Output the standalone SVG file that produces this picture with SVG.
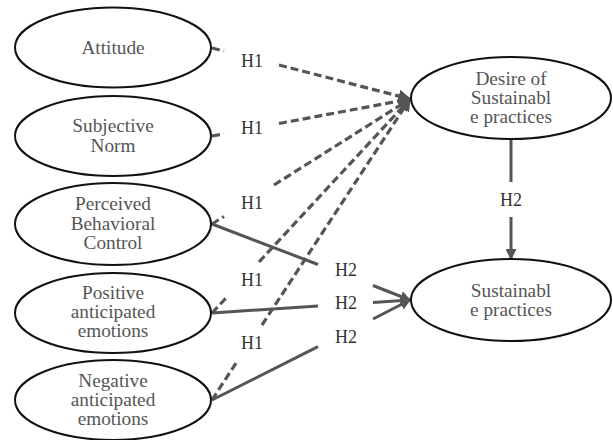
<svg xmlns="http://www.w3.org/2000/svg" width="613" height="440" viewBox="0 0 613 440">
<style>
.node ellipse{fill:#fff;stroke:#111;stroke-width:2}
.node text{font-size:19.3px;fill:#555;text-anchor:middle}
.lbl{font-size:18px;fill:#333;text-anchor:middle}
.dash{stroke:#555;stroke-width:3.2;stroke-dasharray:8 4;fill:none}
.solid{stroke:#555;stroke-width:3;fill:none}
</style>
<defs>
<marker id="ah" viewBox="0 0 10 10" refX="9" refY="5" markerWidth="11" markerHeight="11" markerUnits="userSpaceOnUse" orient="auto">
<path d="M0,0 L10,5 L0,10 z" fill="#555"/>
</marker>
<marker id="ahd" viewBox="0 0 10 10" refX="9" refY="5" markerWidth="13" markerHeight="13" markerUnits="userSpaceOnUse" orient="auto">
<path d="M0,0 L10,5 L0,10 z" fill="#555"/>
</marker>
</defs>
<rect width="613" height="440" fill="#fff"/>
<g id="connectors" font-family="'Liberation Serif', 'Times New Roman', serif">
<line class="dash" x1="212" y1="48" x2="224" y2="51"/>
<line class="dash" x1="279" y1="65" x2="410" y2="99" marker-end="url(#ahd)"/>
<line class="dash" x1="212" y1="136" x2="224" y2="134"/>
<line class="dash" x1="279" y1="123.5" x2="410" y2="99" marker-end="url(#ahd)"/>
<line class="dash" x1="212" y1="224" x2="224" y2="216.5"/>
<line class="dash" x1="274" y1="185" x2="410" y2="99" marker-end="url(#ahd)"/>
<line class="dash" x1="212" y1="313" x2="227" y2="297"/>
<line class="dash" x1="259" y1="262" x2="410" y2="99" marker-end="url(#ahd)"/>
<line class="dash" x1="212" y1="400" x2="238" y2="360"/>
<line class="dash" x1="262" y1="325" x2="410" y2="99" marker-end="url(#ahd)"/>
<line class="solid" x1="212" y1="224" x2="318" y2="264.5"/>
<line class="solid" x1="373" y1="285.5" x2="410" y2="300" marker-end="url(#ah)"/>
<line class="solid" x1="212" y1="313" x2="318" y2="306"/>
<line class="solid" x1="373" y1="302.5" x2="410" y2="300" marker-end="url(#ah)"/>
<line class="solid" x1="212" y1="400" x2="318" y2="346.7"/>
<line class="solid" x1="373" y1="319" x2="410" y2="300" marker-end="url(#ah)"/>
<line class="solid" x1="511" y1="139" x2="511" y2="182"/>
<line class="solid" x1="511" y1="217" x2="511" y2="259" marker-end="url(#ah)"/>
<text class="lbl" x="252" y="67">H1</text>
<text class="lbl" x="252" y="134">H1</text>
<text class="lbl" x="252" y="209">H1</text>
<text class="lbl" x="252" y="286">H1</text>
<text class="lbl" x="252" y="349">H1</text>
<text class="lbl" x="346" y="276">H2</text>
<text class="lbl" x="346" y="309">H2</text>
<text class="lbl" x="346" y="343">H2</text>
<text class="lbl" x="511" y="206">H2</text>
</g>
<g id="attitude" class="node" font-family="'Liberation Serif', 'Times New Roman', serif">
<ellipse cx="113" cy="47.5" rx="98" ry="40"/>
<text x="113" y="54">Attitude</text>
</g>
<g id="subjective-norm" class="node" font-family="'Liberation Serif', 'Times New Roman', serif">
<ellipse cx="113" cy="136" rx="98" ry="40"/>
<text x="113" y="132">Subjective</text>
<text x="113" y="152">Norm</text>
</g>
<g id="pbc" class="node" font-family="'Liberation Serif', 'Times New Roman', serif">
<ellipse cx="113" cy="224" rx="98" ry="41"/>
<text x="113" y="210">Perceived</text>
<text x="113" y="230">Behavioral</text>
<text x="113" y="249">Control</text>
</g>
<g id="positive" class="node" font-family="'Liberation Serif', 'Times New Roman', serif">
<ellipse cx="113" cy="313" rx="98" ry="40"/>
<text x="113" y="299">Positive</text>
<text x="113" y="318">anticipated</text>
<text x="113" y="337">emotions</text>
</g>
<g id="negative" class="node" font-family="'Liberation Serif', 'Times New Roman', serif">
<ellipse cx="113" cy="400" rx="98" ry="40"/>
<text x="113" y="387">Negative</text>
<text x="113" y="406">anticipated</text>
<text x="113" y="425">emotions</text>
</g>
<g id="desire" class="node" font-family="'Liberation Serif', 'Times New Roman', serif">
<ellipse cx="511" cy="98" rx="100" ry="41"/>
<text x="511" y="85">Desire of</text>
<text x="511" y="104">Sustainabl</text>
<text x="511" y="123">e practices</text>
</g>
<g id="sustainable" class="node" font-family="'Liberation Serif', 'Times New Roman', serif">
<ellipse cx="511" cy="300" rx="100" ry="41"/>
<text x="511" y="297">Sustainabl</text>
<text x="511" y="316">e practices</text>
</g>
</svg>
